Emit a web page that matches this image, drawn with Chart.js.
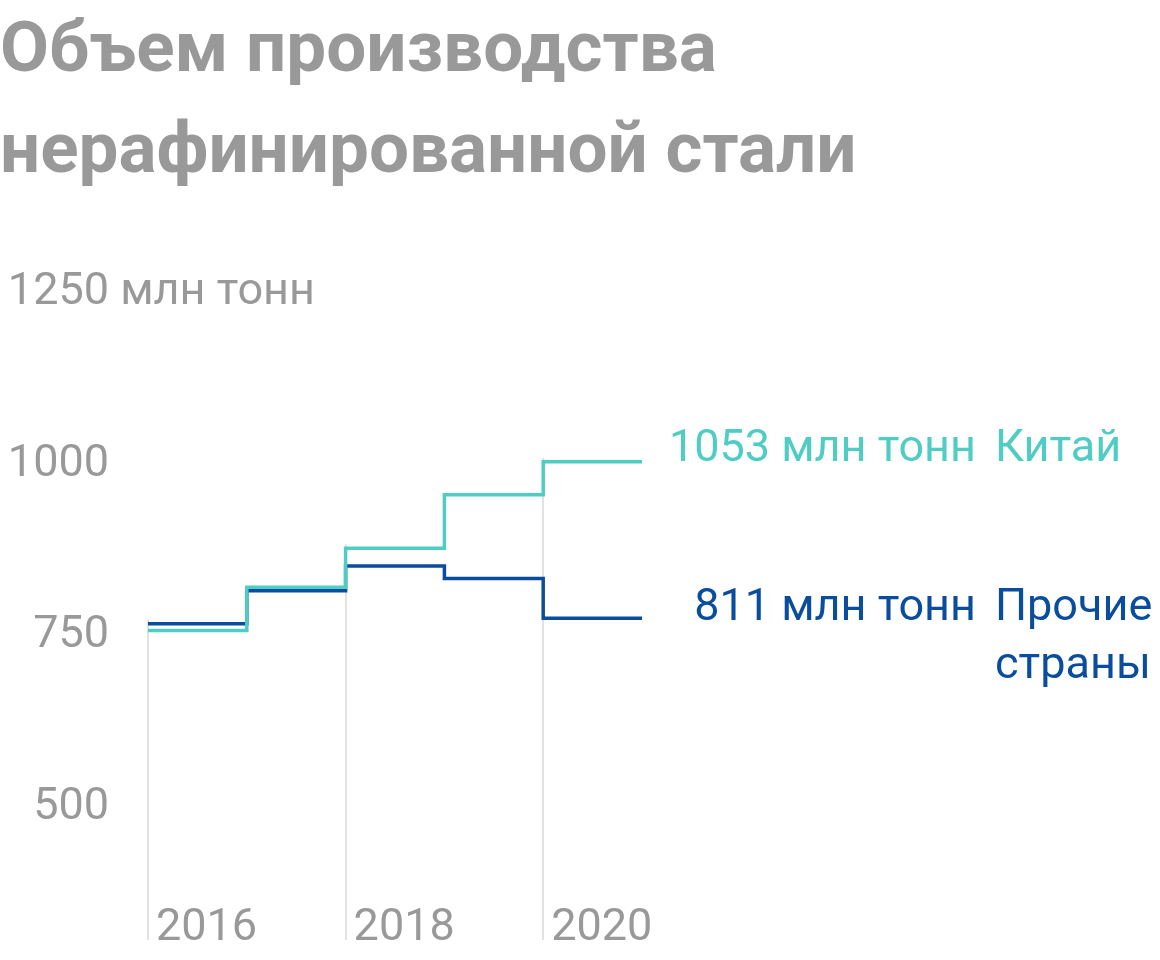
<!DOCTYPE html>
<html>
<head>
<meta charset="utf-8">
<script src="https://cdn.jsdelivr.net/npm/chart.js@4.4.1/dist/chart.umd.min.js"></script>
<style>
  html, body { margin: 0; padding: 0; background: #ffffff; }
  #wrap { width: 1160px; height: 960px; position: relative; }
</style>
</head>
<body>
<div id="wrap"><canvas id="chart"></canvas></div>
<script>
// ---- data ----
const years = [2016, 2017, 2018, 2019, 2020];
const chinaValues = [806, 869, 926, 1004, 1052];
const otherValues = [816, 864, 900, 882, 824];
const xTickYears = [2016, 2018, 2020];
const yTickValues = [500, 750, 1000, 1250];
const yUnit = 'млн тонн';
const endValueLabels = ['1053 млн тонн', '811 млн тонн'];
const seriesNameLines = [['Китай'], ['Прочие', 'страны']];
const titleLines = ['Объем производства', 'нерафинированной стали'];

// ---- styles ----
const CHINA_COLOR = '#4fcdc4';
const OTHER_COLOR = '#0a4d9c';
const GREY = '#999999';
const GRID = '#e2e2e2';
const FONT = 'Roboto';
const TEXT_SIZE = 45;
const RIGHT_SPACE = 518;

function stepPoints(vals) {
  const pts = years.map((y, i) => ({ x: y, y: vals[i] }));
  pts.push({ x: years[years.length - 1] + 1, y: vals[vals.length - 1] });
  return pts;
}

const yLabelOffset = -33;

function alignPx(chart, px, w) {
  const dpr = chart.currentDevicePixelRatio || 1;
  const h = w / 2;
  return Math.round((px - h) * dpr) / dpr + h;
}

const gridPlugin = {
  id: 'partialGrid',
  beforeDatasetsDraw(chart) {
    const { ctx, chartArea, scales: { x, y } } = chart;
    ctx.save();
    ctx.strokeStyle = GRID;
    ctx.lineWidth = 2;
    xTickYears.forEach(yr => {
      const i = years.indexOf(yr);
      const top = y.getPixelForValue(Math.max(chinaValues[i], otherValues[i])) - 4;
      const px = alignPx(chart, x.getPixelForValue(yr), 2);
      ctx.beginPath();
      ctx.moveTo(px, chartArea.bottom);
      ctx.lineTo(px, top);
      ctx.stroke();
    });
    ctx.restore();
  }
};

const labelPlugin = {
  id: 'endLabels',
  afterDraw(chart) {
    const { ctx, chartArea, scales: { y } } = chart;
    ctx.save();
    // unit suffix next to the top y tick
    ctx.font = TEXT_SIZE + 'px ' + FONT;
    ctx.fillStyle = GREY;
    ctx.textBaseline = 'middle';
    ctx.textAlign = 'left';
    const topTick = yTickValues[yTickValues.length - 1];
    const numRight = y.right - y.options.ticks.padding;
    ctx.fillText(' ' + yUnit, numRight, y.getPixelForValue(topTick) + yLabelOffset);

    // end-of-line labels
    const lastVals = [chinaValues[chinaValues.length - 1], otherValues[otherValues.length - 1]];
    const colors = [CHINA_COLOR, OTHER_COLOR];
    const shifts = [-1, 2];
    ctx.textBaseline = 'alphabetic';
    lastVals.forEach((v, k) => {
      const py = y.getPixelForValue(v) + shifts[k];
      ctx.fillStyle = colors[k];
      ctx.textAlign = 'right';
      ctx.fillText(endValueLabels[k], chartArea.right + 334, py);
      ctx.textAlign = 'left';
      seriesNameLines[k].forEach((line, j) => {
        ctx.fillText(line, chartArea.right + 353, py + j * 58);
      });
    });
    ctx.restore();
  }
};

Chart.defaults.font.family = FONT;

new Chart(document.getElementById('chart'), {
  type: 'line',
  data: {
    datasets: [
      {
        label: 'Китай',
        data: stepPoints(chinaValues),
        borderColor: CHINA_COLOR,
        borderWidth: 3.5,
        stepped: 'before',
        pointRadius: 0,
        fill: false,
        borderJoinStyle: 'miter',
        borderCapStyle: 'butt'
      },
      {
        label: 'Прочие страны',
        data: stepPoints(otherValues),
        borderColor: OTHER_COLOR,
        borderWidth: 3.5,
        stepped: 'before',
        pointRadius: 0,
        fill: false,
        borderJoinStyle: 'miter',
        borderCapStyle: 'butt'
      }
    ]
  },
  options: {
    responsive: true,
    maintainAspectRatio: false,
    animation: false,
    events: [],
    layout: { padding: 0 },
    plugins: {
      legend: { display: false },
      tooltip: { enabled: false },
      title: {
        display: true,
        text: titleLines,
        align: 'start',
        color: GREY,
        font: { family: FONT, size: 71, weight: 'bold', lineHeight: 1.42 },
        padding: { top: 3, bottom: 121.4 }
      }
    },
    scales: {
      x: {
        type: 'linear',
        min: years[0],
        max: years[years.length - 1] + 1,
        afterBuildTicks: s => { s.ticks = xTickYears.map(v => ({ value: v })); },
        afterFit: s => { s.height = 60; s.paddingLeft = 0; s.paddingRight = RIGHT_SPACE; },
        grid: {
          display: true,
          drawOnChartArea: false,
          drawTicks: true,
          tickLength: 40,
          tickWidth: 2,
          tickColor: GRID,
          color: GRID,
          lineWidth: 2
        },
        border: { display: false },
        ticks: {
          align: 'start',
          labelOffset: 8,
          padding: -38,
          color: GREY,
          font: { family: FONT, size: TEXT_SIZE, lineHeight: 1.2 },
          maxRotation: 0,
          autoSkip: false,
          callback: v => String(v)
        }
      },
      y: {
        type: 'linear',
        min: 413,
        max: 1250,
        afterBuildTicks: s => { s.ticks = yTickValues.map(v => ({ value: v })); },
        afterFit: s => { s.width = 148; s.paddingTop = 0; s.paddingBottom = 0; },
        grid: { display: false, drawTicks: false },
        border: { display: false },
        ticks: {
          padding: 39,
          labelOffset: yLabelOffset,
          color: GREY,
          font: { family: FONT, size: TEXT_SIZE, lineHeight: 1.2 },
          callback: v => String(v)
        }
      }
    }
  },
  plugins: [gridPlugin, labelPlugin]
});
</script>
</body>
</html>
